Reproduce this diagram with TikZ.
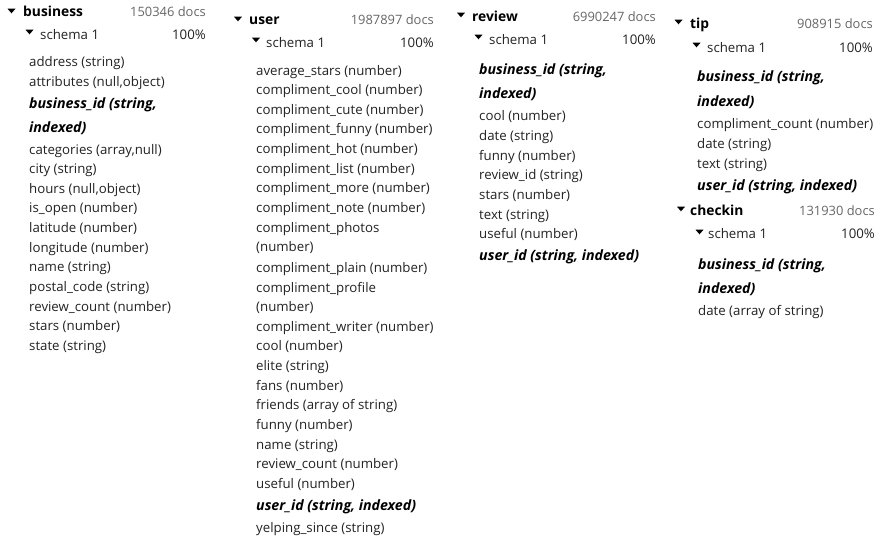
\documentclass[tikz,border=0pt]{standalone}
\usepackage{fontspec}
\setmainfont{Open Sans}
\definecolor{txt}{HTML}{222222}
\definecolor{cntc}{HTML}{666666}
\tikzset{
  fld/.style={anchor=mid west,inner sep=0pt,yshift=-3pt,text=txt,font=\fontsize{13.25}{15}\selectfont},
  keyf/.style={fld,font=\fontsize{14.2}{16}\bfseries\itshape\selectfont,text=black},
  hdr/.style={anchor=mid west,inner sep=0pt,yshift=-3pt,text=black,font=\fontsize{13.8}{17}\bfseries\selectfont},
  cnt/.style={anchor=mid east,inner sep=0pt,yshift=-3pt,text=cntc,font=\fontsize{12.9}{15}\selectfont},
  pct/.style={anchor=mid east,inner sep=0pt,yshift=-3pt,text=txt,font=\fontsize{13.25}{15}\selectfont},
  tri/.style={fill=black,draw=none}
}
\newcommand{\tridown}[2]{\fill[tri] (#1-4,#2-2.3) -- (#1+4,#2-2.3) -- (#1,#2+2.3) -- cycle;}
\begin{document}
\begin{tikzpicture}[x=1pt,y=-1pt]
\useasboundingbox (0,0) rectangle (888,538);
% ---------- business ----------
\tridown{11.5}{11}
\node[hdr] (bH) at (23,11) {business};
\node[cnt] (bC) at (206,11) {150346 docs};
\tridown{29.5}{32}
\node[fld] (bS) at (40,34) {schema 1};
\node[pct] (bP) at (206,34) {100\%};
\node[fld] (b1) at (29,61) {address (string)};
\node[fld] (b2) at (29,81) {attributes (null,object)};
\node[keyf] (b3) at (29,103) {business\_id (string,};
\node[keyf] (b4) at (29,127) {indexed)};
\node[fld] (b5) at (29,149) {categories (array,null)};
\node[fld] (b6) at (29,168) {city (string)};
\node[fld] (b7) at (29,188) {hours (null,object)};
\node[fld] (b8) at (29,207) {is\_open (number)};
\node[fld] (b9) at (29,227) {latitude (number)};
\node[fld] (b10) at (29,247) {longitude (number)};
\node[fld] (b11) at (29,266) {name (string)};
\node[fld] (b12) at (29,286) {postal\_code (string)};
\node[fld] (b13) at (29,306) {review\_count (number)};
\node[fld] (b14) at (29,325) {stars (number)};
\node[fld] (b15) at (29,345) {state (string)};
% ---------- user ----------
\tridown{238}{19}
\node[hdr] (uH) at (249,19) {user};
\node[cnt] (uC) at (434,19) {1987897 docs};
\tridown{256}{40}
\node[fld] (uS) at (266,42) {schema 1};
\node[pct] (uP) at (434,42) {100\%};
\node[fld] (u1) at (256,70) {average\_stars (number)};
\node[fld] (u2) at (256,89) {compliment\_cool (number)};
\node[fld] (u3) at (256,109) {compliment\_cute (number)};
\node[fld] (u4) at (256,128) {compliment\_funny (number)};
\node[fld] (u5) at (256,148) {compliment\_hot (number)};
\node[fld] (u6) at (256,168) {compliment\_list (number)};
\node[fld] (u7) at (256,187) {compliment\_more (number)};
\node[fld] (u8) at (256,207) {compliment\_note (number)};
\node[fld] (u9) at (256,227) {compliment\_photos};
\node[fld] (u10) at (256,246) {(number)};
\node[fld] (u11) at (256,267) {compliment\_plain (number)};
\node[fld] (u12) at (256,287) {compliment\_profile};
\node[fld] (u13) at (256,306) {(number)};
\node[fld] (u14) at (256,326) {compliment\_writer (number)};
\node[fld] (u15) at (256,345) {cool (number)};
\node[fld] (u16) at (256,365) {elite (string)};
\node[fld] (u17) at (256,385) {fans (number)};
\node[fld] (u18) at (256,404) {friends (array of string)};
\node[fld] (u19) at (256,424) {funny (number)};
\node[fld] (u20) at (256,444) {name (string)};
\node[fld] (u21) at (256,463) {review\_count (number)};
\node[fld] (u22) at (256,483) {useful (number)};
\node[keyf] (u23) at (256,505) {user\_id (string, indexed)};
\node[fld] (u24) at (256,527) {yelping\_since (string)};
% ---------- review ----------
\tridown{461}{15}
\node[hdr] (rH) at (472,16) {review};
\node[cnt] (rC) at (656,16) {6990247 docs};
\tridown{478.5}{37}
\node[fld] (rS) at (489,39) {schema 1};
\node[pct] (rP) at (656,39) {100\%};
\node[keyf] (r1) at (479,69) {business\_id (string,};
\node[keyf] (r2) at (479,93) {indexed)};
\node[fld] (r3) at (479,115) {cool (number)};
\node[fld] (r4) at (479,135) {date (string)};
\node[fld] (r5) at (479,155) {funny (number)};
\node[fld] (r6) at (479,174) {review\_id (string)};
\node[fld] (r7) at (479,194) {stars (number)};
\node[fld] (r8) at (479,214) {text (string)};
\node[fld] (r9) at (479,233) {useful (number)};
\node[keyf] (r10) at (479,255) {user\_id (string, indexed)};
% ---------- tip ----------
\tridown{678.5}{22}
\node[hdr] (tH) at (690,23) {tip};
\node[cnt] (tC) at (873,23) {908915 docs};
\tridown{696.5}{45}
\node[fld] (tS) at (707,47) {schema 1};
\node[pct] (tP) at (873,47) {100\%};
\node[keyf] (t1) at (697,76) {business\_id (string,};
\node[keyf] (t2) at (697,101) {indexed)};
\node[fld] (t3) at (697,123) {compliment\_count (number)};
\node[fld] (t4) at (697,143) {date (string)};
\node[fld] (t5) at (697,163) {text (string)};
\node[keyf] (t6) at (697,185) {user\_id (string, indexed)};
% ---------- checkin ----------
\tridown{681}{209}
\node[hdr] (cH) at (690,210) {checkin};
\node[cnt] (cC) at (875,210) {131930 docs};
\tridown{699.5}{232}
\node[fld] (cS) at (708,233) {schema 1};
\node[pct] (cP) at (875,233) {100\%};
\node[keyf] (c1) at (698,264) {business\_id (string,};
\node[keyf] (c2) at (698,288) {indexed)};
\node[fld] (c3) at (698,310) {date (array of string)};
\end{tikzpicture}
\end{document}
